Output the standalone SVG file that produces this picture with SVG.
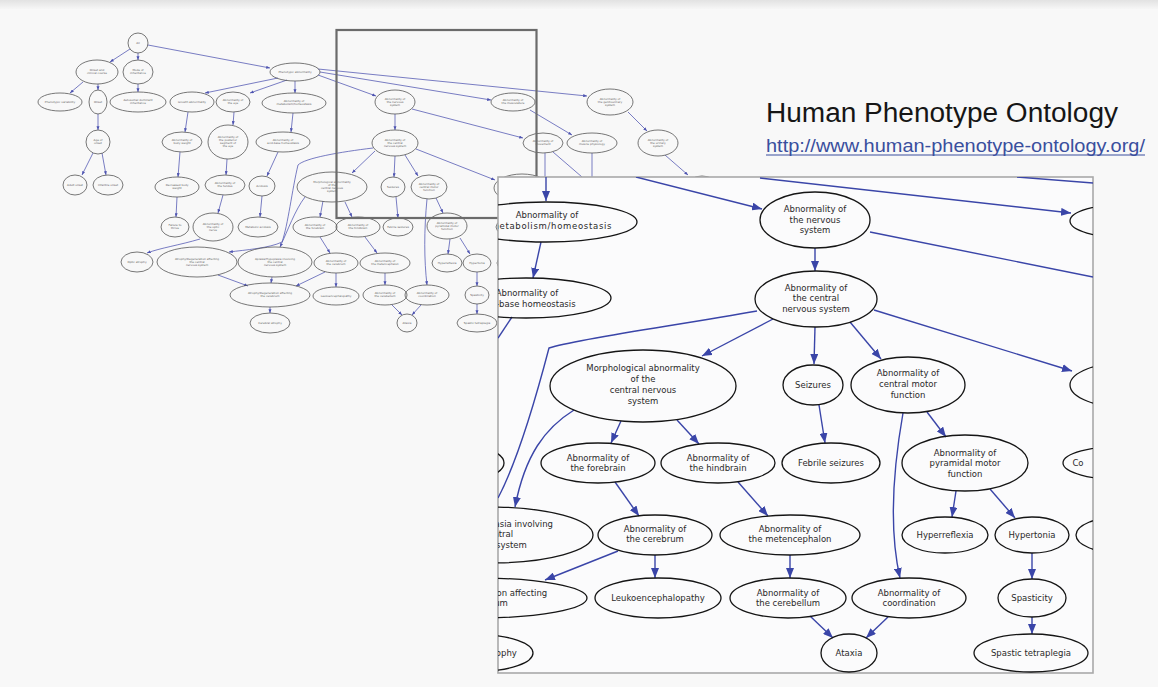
<svg xmlns="http://www.w3.org/2000/svg" width="1158" height="687" viewBox="0 0 1158 687">
  <defs>
    <linearGradient id="topband" x1="0" y1="0" x2="0" y2="1">
      <stop offset="0" stop-color="#e2e2e2"/>
      <stop offset="1" stop-color="#f6f6f6"/>
    </linearGradient>
    <marker id="ah" viewBox="0 0 10 8" refX="10" refY="4" markerWidth="10" markerHeight="8" orient="auto" markerUnits="userSpaceOnUse">
      <path d="M0,0 L10,4 L0,8 z" fill="#3a45a8"/>
    </marker>
    <marker id="sah" viewBox="0 0 10 8" refX="10" refY="4" markerWidth="3.8" markerHeight="3.2" orient="auto" markerUnits="userSpaceOnUse">
      <path d="M0,0 L10,4 L0,8 z" fill="#4d53b0"/>
    </marker>
    <clipPath id="panelclip">
      <rect x="498" y="177" width="595" height="496"/>
    </clipPath>
    <style>
      .sn ellipse { fill: none; stroke: #555; stroke-width: 0.8; }
      .sn text { font-family: "DejaVu Sans", sans-serif; font-size: 2.8px; fill: #606060; text-anchor: middle; }
      .se path { fill: none; stroke: #4d53b0; stroke-width: 0.75; marker-end: url(#sah); }
      .se path.open { marker-end: none; }
      .bn ellipse { fill: none; stroke: #151515; stroke-width: 1.3; }
      .bn text { font-family: "DejaVu Sans", sans-serif; font-size: 8.5px; fill: #2a2a2a; text-anchor: middle; }
      .be path { fill: none; stroke: #3a45a8; stroke-width: 1.4; marker-end: url(#ah); }
      .be path.open { marker-end: none; }
    </style>
  </defs>

  <!-- page background -->
  <rect x="0" y="0" width="1158" height="687" fill="#f8f8f8"/>
  <rect x="0" y="0" width="1158" height="9" fill="url(#topband)"/>

  <!-- ===== overview graph: connectors ===== -->
  <g id="overview-edges" class="se">
    <path d="M130,49 L110,62"/>
    <path d="M138,53 L138,60"/>
    <path d="M148,45 L270,68"/>
    <path d="M83,82 L70,93"/>
    <path d="M98,84 L98,90"/>
    <path d="M138,84 L138,92"/>
    <path d="M98,114 L98,130"/>
    <path d="M93,153 L82,175"/>
    <path d="M102,153 L106,175"/>
    <path d="M278,78 L205,93"/>
    <path d="M287,80 L250,93"/>
    <path d="M295,81 L295,93"/>
    <path d="M318,75 L376,96"/>
    <path d="M320,72 L491,100"/>
    <path d="M318,69 L587,96"/>
    <path d="M188,112 L185,132"/>
    <path d="M180,152 L178,177"/>
    <path d="M234,112 L233,125"/>
    <path d="M227,159 L226,175"/>
    <path d="M293,113 L291,132"/>
    <path d="M278,152 L267,176"/>
    <path d="M177,197 L176,217"/>
    <path d="M223,195 L218,213"/>
    <path d="M262,196 L260,217"/>
    <path d="M200,239 C180,245 160,248 147,253"/>
    <path d="M218,275 L248,286"/>
    <path d="M272,277 L271,283"/>
    <path d="M325,272 L296,286"/>
    <path d="M270,307 L270,313"/>
    <path d="M395,114 L395,130"/>
    <path d="M412,109 L523,138"/>
    <path d="M530,110 L572,135"/>
    <path d="M628,112 L647,131"/>
    <path d="M665,155 L688,175"/>
    <path class="open" d="M545,153 L545,177"/>
    <path class="open" d="M553,152 L582,177"/>
    <path class="open" d="M592,153 L592,177"/>
    <path d="M375,151 L352,173"/>
    <path d="M395,156 L394,177"/>
    <path d="M405,155 L418,176"/>
    <path d="M416,149 L495,180"/>
    <path d="M373,148 C340,152 305,158 298,165 C292,190 288,225 282,242 C270,248 245,250 229,252"/>
    <path d="M305,197 C295,210 288,230 280,247"/>
    <path d="M323,201 L320,217"/>
    <path d="M345,202 L352,217"/>
    <path d="M320,237 L330,253"/>
    <path d="M365,237 L377,253"/>
    <path d="M396,197 L398,218"/>
    <path d="M436,198 L443,213"/>
    <path d="M427,199 C424,230 424,260 427,285"/>
    <path d="M450,239 L448,254"/>
    <path d="M460,238 L470,254"/>
    <path d="M336,273 L336,287"/>
    <path d="M385,273 L385,285"/>
    <path d="M392,305 L402,315"/>
    <path d="M421,305 L412,315"/>
    <path d="M477,272 L477,286"/>
    <path d="M477,304 L477,314"/>
  </g>

  <!-- ===== overview graph: nodes ===== -->
  <g id="s-all" class="sn"><ellipse cx="138" cy="43" rx="10" ry="10"/><text x="138" y="44">All</text></g>
  <g id="s-onset-course" class="sn"><ellipse cx="97" cy="72" rx="21" ry="12"/><text x="97" y="71">Onset and<tspan x="97" dy="3">clinical course</tspan></text></g>
  <g id="s-mode" class="sn"><ellipse cx="138" cy="72" rx="15" ry="12"/><text x="138" y="71">Mode of<tspan x="138" dy="3">inheritance</tspan></text></g>
  <g id="s-pheno" class="sn"><ellipse cx="295" cy="72" rx="25" ry="9"/><text x="295" y="73">Phenotypic abnormality</text></g>
  <g id="s-variab" class="sn"><ellipse cx="60" cy="102" rx="22" ry="9"/><text x="60" y="103">Phenotypic variability</text></g>
  <g id="s-onset" class="sn"><ellipse cx="98" cy="102" rx="9" ry="12"/><text x="98" y="103">Onset</text></g>
  <g id="s-ad" class="sn"><ellipse cx="138" cy="102" rx="28" ry="10"/><text x="138" y="101">Autosomal dominant<tspan x="138" dy="3">inheritance</tspan></text></g>
  <g id="s-growth" class="sn"><ellipse cx="192" cy="102" rx="22" ry="10"/><text x="192" y="103">Growth abnormality</text></g>
  <g id="s-eye" class="sn"><ellipse cx="233" cy="102" rx="17" ry="10"/><text x="233" y="101">Abnormality of<tspan x="233" dy="3">the eye</tspan></text></g>
  <g id="s-metab" class="sn"><ellipse cx="294" cy="103" rx="32" ry="10"/><text x="294" y="102">Abnormality of<tspan x="294" dy="3">metabolism/homeostasis</tspan></text></g>
  <g id="s-age" class="sn"><ellipse cx="98" cy="142" rx="12" ry="12"/><text x="98" y="141">Age of<tspan x="98" dy="3">onset</tspan></text></g>
  <g id="s-bw" class="sn"><ellipse cx="182" cy="142" rx="20" ry="10"/><text x="182" y="141">Abnormality of<tspan x="182" dy="3">body weight</tspan></text></g>
  <g id="s-post" class="sn"><ellipse cx="228" cy="142" rx="20" ry="17"/><text x="228" y="138">Abnormality of<tspan x="228" dy="3">the posterior</tspan><tspan x="228" dy="3">segment of</tspan><tspan x="228" dy="3">the eye</tspan></text></g>
  <g id="s-acid" class="sn"><ellipse cx="283" cy="142" rx="27" ry="10"/><text x="283" y="141">Abnormality of<tspan x="283" dy="3">acid-base homeostasis</tspan></text></g>
  <g id="s-adult" class="sn"><ellipse cx="75" cy="185" rx="12" ry="10"/><text x="75" y="186">Adult onset</text></g>
  <g id="s-infant" class="sn"><ellipse cx="108" cy="185" rx="15" ry="10"/><text x="108" y="186">Infantile onset</text></g>
  <g id="s-dbw" class="sn"><ellipse cx="177" cy="187" rx="22" ry="10"/><text x="177" y="186">Decreased body<tspan x="177" dy="3">weight</tspan></text></g>
  <g id="s-fundus" class="sn"><ellipse cx="225" cy="185" rx="20" ry="10"/><text x="225" y="184">Abnormality of<tspan x="225" dy="3">the fundus</tspan></text></g>
  <g id="s-acidosis" class="sn"><ellipse cx="262" cy="186" rx="13" ry="10"/><text x="262" y="187">Acidosis</text></g>
  <g id="s-ftt" class="sn"><ellipse cx="175" cy="227" rx="14" ry="10"/><text x="175" y="226">Failure to<tspan x="175" dy="3">thrive</tspan></text></g>
  <g id="s-optn" class="sn"><ellipse cx="213" cy="227" rx="20" ry="14"/><text x="213" y="225">Abnormality of<tspan x="213" dy="3">the optic</tspan><tspan x="213" dy="3">nerve</tspan></text></g>
  <g id="s-metacid" class="sn"><ellipse cx="258" cy="227" rx="20" ry="10"/><text x="258" y="228">Metabolic acidosis</text></g>
  <g id="s-optat" class="sn"><ellipse cx="137" cy="262" rx="16" ry="10"/><text x="137" y="263">Optic atrophy</text></g>
  <g id="s-atcns" class="sn"><ellipse cx="197" cy="262" rx="40" ry="15"/><text x="197" y="260">Atrophy/Degeneration affecting<tspan x="197" dy="3">the central</tspan><tspan x="197" dy="3">nervous system</tspan></text></g>
  <g id="s-apl" class="sn"><ellipse cx="275" cy="262" rx="37" ry="15"/><text x="275" y="260">Aplasia/Hypoplasia involving<tspan x="275" dy="3">the central</tspan><tspan x="275" dy="3">nervous system</tspan></text></g>
  <g id="s-atcer" class="sn"><ellipse cx="270" cy="295" rx="40" ry="12"/><text x="270" y="294">Atrophy/Degeneration affecting<tspan x="270" dy="3">the cerebrum</tspan></text></g>
  <g id="s-cerat" class="sn"><ellipse cx="270" cy="323" rx="20" ry="10"/><text x="270" y="324">Cerebral atrophy</text></g>
  <g id="s-nerv" class="sn"><ellipse cx="395" cy="102" rx="20" ry="12"/><text x="395" y="100">Abnormality of<tspan x="395" dy="3">the nervous</tspan><tspan x="395" dy="3">system</tspan></text></g>
  <g id="s-musc" class="sn"><ellipse cx="513" cy="102" rx="22" ry="9"/><text x="513" y="101">Abnormality of<tspan x="513" dy="3">the musculature</tspan></text></g>
  <g id="s-gu" class="sn"><ellipse cx="610" cy="102" rx="23" ry="13"/><text x="610" y="100">Abnormality of<tspan x="610" dy="3">the genitourinary</tspan><tspan x="610" dy="3">system</tspan></text></g>
  <g id="s-cns" class="sn"><ellipse cx="395" cy="143" rx="23" ry="13"/><text x="395" y="141">Abnormality of<tspan x="395" dy="3">the central</tspan><tspan x="395" dy="3">nervous system</tspan></text></g>
  <g id="s-mov" class="sn"><ellipse cx="543" cy="143" rx="20" ry="10"/><text x="543" y="142">Abnormality of<tspan x="543" dy="3">movement</tspan></text></g>
  <g id="s-mphys" class="sn"><ellipse cx="592" cy="143" rx="25" ry="10"/><text x="592" y="142">Abnormality of<tspan x="592" dy="3">muscle physiology</tspan></text></g>
  <g id="s-urin" class="sn"><ellipse cx="658" cy="143" rx="20" ry="13"/><text x="658" y="141">Abnormality of<tspan x="658" dy="3">the urinary</tspan><tspan x="658" dy="3">system</tspan></text></g>
  <g id="s-urin-child" class="sn"><ellipse cx="702" cy="186" rx="15" ry="10"/></g>
  <g id="s-morph" class="sn"><ellipse cx="332" cy="187" rx="35" ry="15"/><text x="332" y="183">Morphological abnormality<tspan x="332" dy="3">of the</tspan><tspan x="332" dy="3">central nervous</tspan><tspan x="332" dy="3">system</tspan></text></g>
  <g id="s-seiz" class="sn"><ellipse cx="393" cy="187" rx="12" ry="10"/><text x="393" y="188">Seizures</text></g>
  <g id="s-cmf" class="sn"><ellipse cx="429" cy="187" rx="18" ry="12"/><text x="429" y="185">Abnormality of<tspan x="429" dy="3">central motor</tspan><tspan x="429" dy="3">function</tspan></text></g>
  <g id="s-cns-right" class="sn"><ellipse cx="522" cy="188" rx="28" ry="14"/></g>
  <g id="s-fore" class="sn"><ellipse cx="315" cy="227" rx="22" ry="10"/><text x="315" y="226">Abnormality of<tspan x="315" dy="3">the forebrain</tspan></text></g>
  <g id="s-hind" class="sn"><ellipse cx="358" cy="227" rx="22" ry="10"/><text x="358" y="226">Abnormality of<tspan x="358" dy="3">the hindbrain</tspan></text></g>
  <g id="s-feb" class="sn"><ellipse cx="398" cy="227" rx="15" ry="9"/><text x="398" y="228">Febrile seizures</text></g>
  <g id="s-pyr" class="sn"><ellipse cx="447" cy="226" rx="20" ry="13"/><text x="447" y="224">Abnormality of<tspan x="447" dy="3">pyramidal motor</tspan><tspan x="447" dy="3">function</tspan></text></g>
  <g id="s-right-a" class="sn"><ellipse cx="516" cy="227" rx="20" ry="10"/></g>
  <g id="s-cer" class="sn"><ellipse cx="336" cy="263" rx="22" ry="10"/><text x="336" y="262">Abnormality of<tspan x="336" dy="3">the cerebrum</tspan></text></g>
  <g id="s-met" class="sn"><ellipse cx="385" cy="263" rx="25" ry="10"/><text x="385" y="262">Abnormality of<tspan x="385" dy="3">the metencephalon</tspan></text></g>
  <g id="s-hrefl" class="sn"><ellipse cx="447" cy="263" rx="15" ry="9"/><text x="447" y="264">Hyperreflexia</text></g>
  <g id="s-htone" class="sn"><ellipse cx="477" cy="263" rx="14" ry="9"/><text x="477" y="264">Hypertonia</text></g>
  <g id="s-right-b" class="sn"><ellipse cx="514" cy="263" rx="17" ry="9"/></g>
  <g id="s-leuk" class="sn"><ellipse cx="336" cy="296" rx="23" ry="9"/><text x="336" y="297">Leukoencephalopathy</text></g>
  <g id="s-cbl" class="sn"><ellipse cx="385" cy="295" rx="22" ry="10"/><text x="385" y="294">Abnormality of<tspan x="385" dy="3">the cerebellum</tspan></text></g>
  <g id="s-coord" class="sn"><ellipse cx="427" cy="295" rx="22" ry="10"/><text x="427" y="294">Abnormality of<tspan x="427" dy="3">coordination</tspan></text></g>
  <g id="s-spas" class="sn"><ellipse cx="477" cy="295" rx="12" ry="9"/><text x="477" y="296">Spasticity</text></g>
  <g id="s-atax" class="sn"><ellipse cx="407" cy="323" rx="10" ry="9"/><text x="407" y="324">Ataxia</text></g>
  <g id="s-tetra" class="sn"><ellipse cx="477" cy="323" rx="20" ry="9"/><text x="477" y="324">Spastic tetraplegia</text></g>

  <!-- selection frame around the enlarged region -->
  <rect id="selection-frame" x="336.5" y="30" width="200" height="188" fill="none" stroke="#6b6b6b" stroke-width="2.2"/>

  <!-- ===== enlarged view ===== -->
  <g id="detail-panel">
    <rect x="498" y="177" width="595" height="496" fill="#fbfbfc" stroke="#a9a9a9" stroke-width="1.6"/>
    <g clip-path="url(#panelclip)">
      <g id="detail-edges" class="be">
        <path d="M546,177 L546,201"/>
        <path d="M636,177 L762,209"/>
        <path d="M760,178 L1071,213"/>
        <path class="open" d="M1017,177 L1093,183"/>
        <path class="open" d="M870,232 L1093,277"/>
        <path class="open" d="M512,317 L498,338"/>
        <path d="M541,242 L533,278"/>
        <path d="M815,248 L815,271"/>
        <path d="M773,319 L702,356"/>
        <path d="M815,327 L814,364"/>
        <path d="M850,322 L881,359"/>
        <path d="M874,310 L1072,371"/>
        <path class="open" d="M757,311 C680,325 580,338 549,348 C538,390 518,460 498,498"/>
        <path d="M621,421 L611,443"/>
        <path d="M677,420 L699,444"/>
        <path d="M574,410 C545,428 525,455 515,507"/>
        <path d="M819,405 L825,443"/>
        <path d="M927,412 L946,437"/>
        <path d="M903,413 C893,470 889,530 900,578"/>
        <path d="M615,482 L639,516"/>
        <path d="M738,482 L768,516"/>
        <path d="M956,491 L952,517"/>
        <path d="M990,489 L1015,518"/>
        <path d="M618,551 C595,560 570,570 545,580"/>
        <path d="M655,555 L655,578"/>
        <path d="M790,555 L790,578"/>
        <path d="M1032,553 L1032,579"/>
        <path d="M810,616 L833,638"/>
        <path d="M888,617 L866,638"/>
        <path d="M1032,617 L1032,634"/>
      </g>

      <g id="b-metab" class="bn"><ellipse cx="546" cy="222" rx="91" ry="20"/><text x="547" y="218">Abnormality of<tspan x="551" y="229" textLength="121">metabolism/homeostasis</tspan></text></g>
      <g id="b-acid" class="bn"><ellipse cx="526" cy="298" rx="85" ry="20"/><text x="527" y="296">Abnormality of<tspan x="527" y="307">acid-base homeostasis</tspan></text></g>
      <g id="b-nerv" class="bn"><ellipse cx="815" cy="220" rx="55" ry="28"/><text x="815" y="212">Abnormality of<tspan x="815" y="223">the nervous</tspan><tspan x="815" y="233">system</tspan></text></g>
      <g id="b-top-right" class="bn"><ellipse cx="1128" cy="221" rx="58" ry="17"/></g>
      <g id="b-cns" class="bn"><ellipse cx="816" cy="299" rx="61" ry="28"/><text x="816" y="291">Abnormality of<tspan x="816" y="301">the central</tspan><tspan x="816" y="312">nervous system</tspan></text></g>
      <g id="b-morph" class="bn"><ellipse cx="643" cy="386" rx="93" ry="36"/><text x="643" y="371">Morphological abnormality<tspan x="643" y="382">of the</tspan><tspan x="643" y="393">central nervous</tspan><tspan x="643" y="404">system</tspan></text></g>
      <g id="b-seiz" class="bn"><ellipse cx="813" cy="385" rx="30" ry="20"/><text x="813" y="388">Seizures</text></g>
      <g id="b-cmf" class="bn"><ellipse cx="908" cy="385" rx="57" ry="28"/><text x="908" y="376">Abnormality of<tspan x="908" y="387">central motor</tspan><tspan x="908" y="398">function</tspan></text></g>
      <g id="b-cns-right" class="bn"><ellipse cx="1130" cy="385" rx="60" ry="23"/></g>
      <g id="b-left-mid" class="bn"><ellipse cx="460" cy="463" rx="44" ry="18"/></g>
      <g id="b-fore" class="bn"><ellipse cx="598" cy="463" rx="57" ry="20"/><text x="598" y="461">Abnormality of<tspan x="598" y="471">the forebrain</tspan></text></g>
      <g id="b-hind" class="bn"><ellipse cx="718" cy="463" rx="57" ry="20"/><text x="718" y="461">Abnormality of<tspan x="718" y="471">the hindbrain</tspan></text></g>
      <g id="b-feb" class="bn"><ellipse cx="831" cy="463" rx="49" ry="20"/><text x="831" y="466">Febrile seizures</text></g>
      <g id="b-pyr" class="bn"><ellipse cx="965" cy="463" rx="63" ry="28"/><text x="965" y="456">Abnormality of<tspan x="965" y="466">pyramidal motor</tspan><tspan x="965" y="477">function</tspan></text></g>
      <g id="b-co" class="bn"><ellipse cx="1125" cy="463" rx="62" ry="17"/><text x="1078" y="466" text-anchor="start">Co</text></g>
      <g id="b-apl" class="bn"><ellipse cx="491" cy="535" rx="102" ry="28"/><text x="492" y="527">Aplasia/Hypoplasia involving<tspan x="490" y="537">the central</tspan><tspan x="493" y="548">nervous system</tspan></text></g>
      <g id="b-cer" class="bn"><ellipse cx="655" cy="535" rx="57" ry="20"/><text x="655" y="532">Abnormality of<tspan x="655" y="542">the cerebrum</tspan></text></g>
      <g id="b-met" class="bn"><ellipse cx="790" cy="535" rx="70" ry="20"/><text x="790" y="532">Abnormality of<tspan x="790" y="542">the metencephalon</tspan></text></g>
      <g id="b-hrefl" class="bn"><ellipse cx="945" cy="535" rx="43" ry="18"/><text x="945" y="538">Hyperreflexia</text></g>
      <g id="b-htone" class="bn"><ellipse cx="1032" cy="535" rx="37" ry="18"/><text x="1032" y="538">Hypertonia</text></g>
      <g id="b-right-low" class="bn"><ellipse cx="1120" cy="535" rx="44" ry="18"/></g>
      <g id="b-atcer" class="bn"><ellipse cx="479" cy="598" rx="108" ry="20"/><text x="480" y="596">Atrophy/Degeneration affecting<tspan x="479" y="606">the cerebrum</tspan></text></g>
      <g id="b-leuk" class="bn"><ellipse cx="658" cy="598" rx="63" ry="20"/><text x="658" y="601">Leukoencephalopathy</text></g>
      <g id="b-cbl" class="bn"><ellipse cx="788" cy="598" rx="58" ry="20"/><text x="788" y="596">Abnormality of<tspan x="788" y="606">the cerebellum</tspan></text></g>
      <g id="b-coord" class="bn"><ellipse cx="909" cy="598" rx="57" ry="20"/><text x="909" y="596">Abnormality of<tspan x="909" y="606">coordination</tspan></text></g>
      <g id="b-spas" class="bn"><ellipse cx="1032" cy="598" rx="34" ry="19"/><text x="1032" y="601">Spasticity</text></g>
      <g id="b-cerat" class="bn"><ellipse cx="481" cy="653" rx="52" ry="18"/><text x="481" y="656">Cerebral atrophy</text></g>
      <g id="b-atax" class="bn"><ellipse cx="849" cy="653" rx="28" ry="19"/><text x="849" y="656">Ataxia</text></g>
      <g id="b-tetra" class="bn"><ellipse cx="1031" cy="653" rx="57" ry="19"/><text x="1031" y="656">Spastic tetraplegia</text></g>
    </g>
  </g>

  <!-- heading and link -->
  <g id="heading">
    <text x="766" y="122" font-family="Liberation Sans, Arial, sans-serif" font-size="27" fill="#161616" textLength="352" lengthAdjust="spacingAndGlyphs">Human Phenotype Ontology</text>
    <text x="766" y="152" font-family="Liberation Sans, Arial, sans-serif" font-size="17.5" fill="#3a4f9e" textLength="379" lengthAdjust="spacingAndGlyphs">http://www.human-phenotype-ontology.org/</text>
    <line x1="766" y1="155" x2="1145" y2="155" stroke="#3a4f9e" stroke-width="1.2"/>
  </g>
</svg>
